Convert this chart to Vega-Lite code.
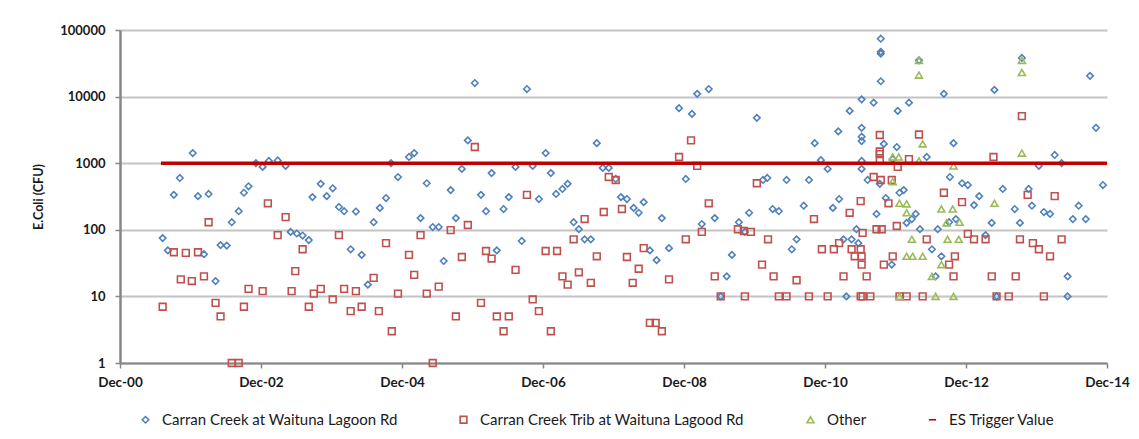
{
"$schema": "https://vega.github.io/schema/vega-lite/v6.json",
"width": 987, "height": 333,
"autosize": {"type": "none"},
"padding": {"left": 120, "top": 30, "right": 32, "bottom": 76},
"background": "white",
"config": {"view": {"stroke": null}, "font": "Lato"},
"data": {"values": [
{"date":"2001-07-10","ecoli":75,"site":"Carran Creek at Waituna Lagoon Rd"},
{"date":"2001-08-06","ecoli":49,"site":"Carran Creek at Waituna Lagoon Rd"},
{"date":"2001-09-06","ecoli":335,"site":"Carran Creek at Waituna Lagoon Rd"},
{"date":"2001-10-07","ecoli":600,"site":"Carran Creek at Waituna Lagoon Rd"},
{"date":"2001-12-13","ecoli":1420,"site":"Carran Creek at Waituna Lagoon Rd"},
{"date":"2002-01-09","ecoli":320,"site":"Carran Creek at Waituna Lagoon Rd"},
{"date":"2002-02-09","ecoli":43,"site":"Carran Creek at Waituna Lagoon Rd"},
{"date":"2002-03-05","ecoli":345,"site":"Carran Creek at Waituna Lagoon Rd"},
{"date":"2002-04-10","ecoli":17,"site":"Carran Creek at Waituna Lagoon Rd"},
{"date":"2002-05-06","ecoli":59,"site":"Carran Creek at Waituna Lagoon Rd"},
{"date":"2002-06-07","ecoli":58,"site":"Carran Creek at Waituna Lagoon Rd"},
{"date":"2002-07-03","ecoli":130,"site":"Carran Creek at Waituna Lagoon Rd"},
{"date":"2002-08-08","ecoli":190,"site":"Carran Creek at Waituna Lagoon Rd"},
{"date":"2002-09-04","ecoli":360,"site":"Carran Creek at Waituna Lagoon Rd"},
{"date":"2002-09-28","ecoli":450,"site":"Carran Creek at Waituna Lagoon Rd"},
{"date":"2002-11-05","ecoli":1000,"site":"Carran Creek at Waituna Lagoon Rd"},
{"date":"2002-12-10","ecoli":880,"site":"Carran Creek at Waituna Lagoon Rd"},
{"date":"2003-01-11","ecoli":1080,"site":"Carran Creek at Waituna Lagoon Rd"},
{"date":"2003-02-26","ecoli":1100,"site":"Carran Creek at Waituna Lagoon Rd"},
{"date":"2003-04-08","ecoli":910,"site":"Carran Creek at Waituna Lagoon Rd"},
{"date":"2003-05-04","ecoli":93,"site":"Carran Creek at Waituna Lagoon Rd"},
{"date":"2003-06-05","ecoli":88,"site":"Carran Creek at Waituna Lagoon Rd"},
{"date":"2003-07-05","ecoli":82,"site":"Carran Creek at Waituna Lagoon Rd"},
{"date":"2003-08-06","ecoli":70,"site":"Carran Creek at Waituna Lagoon Rd"},
{"date":"2003-08-25","ecoli":310,"site":"Carran Creek at Waituna Lagoon Rd"},
{"date":"2003-10-07","ecoli":490,"site":"Carran Creek at Waituna Lagoon Rd"},
{"date":"2003-11-07","ecoli":320,"site":"Carran Creek at Waituna Lagoon Rd"},
{"date":"2003-12-08","ecoli":420,"site":"Carran Creek at Waituna Lagoon Rd"},
{"date":"2004-01-09","ecoli":220,"site":"Carran Creek at Waituna Lagoon Rd"},
{"date":"2004-02-05","ecoli":190,"site":"Carran Creek at Waituna Lagoon Rd"},
{"date":"2004-03-10","ecoli":51,"site":"Carran Creek at Waituna Lagoon Rd"},
{"date":"2004-04-06","ecoli":188,"site":"Carran Creek at Waituna Lagoon Rd"},
{"date":"2004-05-06","ecoli":42,"site":"Carran Creek at Waituna Lagoon Rd"},
{"date":"2004-06-07","ecoli":15,"site":"Carran Creek at Waituna Lagoon Rd"},
{"date":"2004-07-07","ecoli":130,"site":"Carran Creek at Waituna Lagoon Rd"},
{"date":"2004-08-08","ecoli":213,"site":"Carran Creek at Waituna Lagoon Rd"},
{"date":"2004-09-09","ecoli":300,"site":"Carran Creek at Waituna Lagoon Rd"},
{"date":"2004-10-05","ecoli":1000,"site":"Carran Creek at Waituna Lagoon Rd"},
{"date":"2004-11-10","ecoli":620,"site":"Carran Creek at Waituna Lagoon Rd"},
{"date":"2005-01-06","ecoli":1240,"site":"Carran Creek at Waituna Lagoon Rd"},
{"date":"2005-02-02","ecoli":1420,"site":"Carran Creek at Waituna Lagoon Rd"},
{"date":"2005-03-07","ecoli":150,"site":"Carran Creek at Waituna Lagoon Rd"},
{"date":"2005-04-08","ecoli":500,"site":"Carran Creek at Waituna Lagoon Rd"},
{"date":"2005-05-09","ecoli":110,"site":"Carran Creek at Waituna Lagoon Rd"},
{"date":"2005-06-09","ecoli":110,"site":"Carran Creek at Waituna Lagoon Rd"},
{"date":"2005-07-05","ecoli":34,"site":"Carran Creek at Waituna Lagoon Rd"},
{"date":"2005-08-10","ecoli":395,"site":"Carran Creek at Waituna Lagoon Rd"},
{"date":"2005-09-06","ecoli":150,"site":"Carran Creek at Waituna Lagoon Rd"},
{"date":"2005-10-07","ecoli":820,"site":"Carran Creek at Waituna Lagoon Rd"},
{"date":"2005-11-07","ecoli":2200,"site":"Carran Creek at Waituna Lagoon Rd"},
{"date":"2005-12-13","ecoli":16000,"site":"Carran Creek at Waituna Lagoon Rd"},
{"date":"2006-01-14","ecoli":335,"site":"Carran Creek at Waituna Lagoon Rd"},
{"date":"2006-02-09","ecoli":190,"site":"Carran Creek at Waituna Lagoon Rd"},
{"date":"2006-03-10","ecoli":710,"site":"Carran Creek at Waituna Lagoon Rd"},
{"date":"2006-04-06","ecoli":49,"site":"Carran Creek at Waituna Lagoon Rd"},
{"date":"2006-05-11","ecoli":205,"site":"Carran Creek at Waituna Lagoon Rd"},
{"date":"2006-06-07","ecoli":310,"site":"Carran Creek at Waituna Lagoon Rd"},
{"date":"2006-07-12","ecoli":880,"site":"Carran Creek at Waituna Lagoon Rd"},
{"date":"2006-08-13","ecoli":68,"site":"Carran Creek at Waituna Lagoon Rd"},
{"date":"2006-09-09","ecoli":13000,"site":"Carran Creek at Waituna Lagoon Rd"},
{"date":"2006-10-09","ecoli":910,"site":"Carran Creek at Waituna Lagoon Rd"},
{"date":"2006-11-10","ecoli":290,"site":"Carran Creek at Waituna Lagoon Rd"},
{"date":"2006-12-15","ecoli":1420,"site":"Carran Creek at Waituna Lagoon Rd"},
{"date":"2007-01-11","ecoli":710,"site":"Carran Creek at Waituna Lagoon Rd"},
{"date":"2007-02-07","ecoli":345,"site":"Carran Creek at Waituna Lagoon Rd"},
{"date":"2007-03-12","ecoli":410,"site":"Carran Creek at Waituna Lagoon Rd"},
{"date":"2007-04-08","ecoli":490,"site":"Carran Creek at Waituna Lagoon Rd"},
{"date":"2007-05-09","ecoli":130,"site":"Carran Creek at Waituna Lagoon Rd"},
{"date":"2007-06-05","ecoli":102,"site":"Carran Creek at Waituna Lagoon Rd"},
{"date":"2007-07-05","ecoli":72,"site":"Carran Creek at Waituna Lagoon Rd"},
{"date":"2007-08-06","ecoli":72,"site":"Carran Creek at Waituna Lagoon Rd"},
{"date":"2007-09-06","ecoli":2000,"site":"Carran Creek at Waituna Lagoon Rd"},
{"date":"2007-10-07","ecoli":850,"site":"Carran Creek at Waituna Lagoon Rd"},
{"date":"2007-11-07","ecoli":850,"site":"Carran Creek at Waituna Lagoon Rd"},
{"date":"2007-12-13","ecoli":580,"site":"Carran Creek at Waituna Lagoon Rd"},
{"date":"2008-01-09","ecoli":310,"site":"Carran Creek at Waituna Lagoon Rd"},
{"date":"2008-02-09","ecoli":290,"site":"Carran Creek at Waituna Lagoon Rd"},
{"date":"2008-03-15","ecoli":213,"site":"Carran Creek at Waituna Lagoon Rd"},
{"date":"2008-04-10","ecoli":180,"site":"Carran Creek at Waituna Lagoon Rd"},
{"date":"2008-05-06","ecoli":260,"site":"Carran Creek at Waituna Lagoon Rd"},
{"date":"2008-06-07","ecoli":49,"site":"Carran Creek at Waituna Lagoon Rd"},
{"date":"2008-07-12","ecoli":35,"site":"Carran Creek at Waituna Lagoon Rd"},
{"date":"2008-08-08","ecoli":150,"site":"Carran Creek at Waituna Lagoon Rd"},
{"date":"2008-09-14","ecoli":53,"site":"Carran Creek at Waituna Lagoon Rd"},
{"date":"2008-11-05","ecoli":6700,"site":"Carran Creek at Waituna Lagoon Rd"},
{"date":"2008-12-10","ecoli":580,"site":"Carran Creek at Waituna Lagoon Rd"},
{"date":"2009-01-11","ecoli":5500,"site":"Carran Creek at Waituna Lagoon Rd"},
{"date":"2009-02-07","ecoli":11000,"site":"Carran Creek at Waituna Lagoon Rd"},
{"date":"2009-03-03","ecoli":122,"site":"Carran Creek at Waituna Lagoon Rd"},
{"date":"2009-04-08","ecoli":13000,"site":"Carran Creek at Waituna Lagoon Rd"},
{"date":"2009-05-09","ecoli":150,"site":"Carran Creek at Waituna Lagoon Rd"},
{"date":"2009-06-09","ecoli":10,"site":"Carran Creek at Waituna Lagoon Rd"},
{"date":"2009-07-10","ecoli":20,"site":"Carran Creek at Waituna Lagoon Rd"},
{"date":"2009-08-06","ecoli":42,"site":"Carran Creek at Waituna Lagoon Rd"},
{"date":"2009-09-11","ecoli":130,"site":"Carran Creek at Waituna Lagoon Rd"},
{"date":"2009-10-12","ecoli":93,"site":"Carran Creek at Waituna Lagoon Rd"},
{"date":"2009-11-03","ecoli":180,"site":"Carran Creek at Waituna Lagoon Rd"},
{"date":"2009-12-13","ecoli":4800,"site":"Carran Creek at Waituna Lagoon Rd"},
{"date":"2010-01-14","ecoli":560,"site":"Carran Creek at Waituna Lagoon Rd"},
{"date":"2010-02-05","ecoli":600,"site":"Carran Creek at Waituna Lagoon Rd"},
{"date":"2010-03-05","ecoli":205,"site":"Carran Creek at Waituna Lagoon Rd"},
{"date":"2010-04-06","ecoli":190,"site":"Carran Creek at Waituna Lagoon Rd"},
{"date":"2010-05-16","ecoli":560,"site":"Carran Creek at Waituna Lagoon Rd"},
{"date":"2010-06-12","ecoli":51,"site":"Carran Creek at Waituna Lagoon Rd"},
{"date":"2010-07-07","ecoli":72,"site":"Carran Creek at Waituna Lagoon Rd"},
{"date":"2010-08-13","ecoli":230,"site":"Carran Creek at Waituna Lagoon Rd"},
{"date":"2010-09-09","ecoli":560,"site":"Carran Creek at Waituna Lagoon Rd"},
{"date":"2010-10-09","ecoli":2000,"site":"Carran Creek at Waituna Lagoon Rd"},
{"date":"2010-11-10","ecoli":1110,"site":"Carran Creek at Waituna Lagoon Rd"},
{"date":"2010-12-15","ecoli":820,"site":"Carran Creek at Waituna Lagoon Rd"},
{"date":"2011-01-11","ecoli":213,"site":"Carran Creek at Waituna Lagoon Rd"},
{"date":"2011-02-12","ecoli":290,"site":"Carran Creek at Waituna Lagoon Rd"},
{"date":"2011-02-08","ecoli":3000,"site":"Carran Creek at Waituna Lagoon Rd"},
{"date":"2011-03-07","ecoli":72,"site":"Carran Creek at Waituna Lagoon Rd"},
{"date":"2011-03-22","ecoli":10,"site":"Carran Creek at Waituna Lagoon Rd"},
{"date":"2011-04-08","ecoli":6100,"site":"Carran Creek at Waituna Lagoon Rd"},
{"date":"2011-04-18","ecoli":72,"site":"Carran Creek at Waituna Lagoon Rd"},
{"date":"2011-05-13","ecoli":102,"site":"Carran Creek at Waituna Lagoon Rd"},
{"date":"2011-05-23","ecoli":63,"site":"Carran Creek at Waituna Lagoon Rd"},
{"date":"2011-06-09","ecoli":9100,"site":"Carran Creek at Waituna Lagoon Rd"},
{"date":"2011-06-09","ecoli":3400,"site":"Carran Creek at Waituna Lagoon Rd"},
{"date":"2011-06-09","ecoli":2500,"site":"Carran Creek at Waituna Lagoon Rd"},
{"date":"2011-06-09","ecoli":2150,"site":"Carran Creek at Waituna Lagoon Rd"},
{"date":"2011-06-09","ecoli":1080,"site":"Carran Creek at Waituna Lagoon Rd"},
{"date":"2011-06-09","ecoli":820,"site":"Carran Creek at Waituna Lagoon Rd"},
{"date":"2011-07-10","ecoli":560,"site":"Carran Creek at Waituna Lagoon Rd"},
{"date":"2011-08-10","ecoli":8100,"site":"Carran Creek at Waituna Lagoon Rd"},
{"date":"2011-08-25","ecoli":173,"site":"Carran Creek at Waituna Lagoon Rd"},
{"date":"2011-09-11","ecoli":490,"site":"Carran Creek at Waituna Lagoon Rd"},
{"date":"2011-09-16","ecoli":74000,"site":"Carran Creek at Waituna Lagoon Rd"},
{"date":"2011-09-16","ecoli":47000,"site":"Carran Creek at Waituna Lagoon Rd"},
{"date":"2011-09-16","ecoli":44000,"site":"Carran Creek at Waituna Lagoon Rd"},
{"date":"2011-09-16","ecoli":17000,"site":"Carran Creek at Waituna Lagoon Rd"},
{"date":"2011-10-02","ecoli":1950,"site":"Carran Creek at Waituna Lagoon Rd"},
{"date":"2011-10-12","ecoli":300,"site":"Carran Creek at Waituna Lagoon Rd"},
{"date":"2011-11-12","ecoli":30,"site":"Carran Creek at Waituna Lagoon Rd"},
{"date":"2011-11-17","ecoli":1150,"site":"Carran Creek at Waituna Lagoon Rd"},
{"date":"2011-12-08","ecoli":1750,"site":"Carran Creek at Waituna Lagoon Rd"},
{"date":"2011-12-13","ecoli":6100,"site":"Carran Creek at Waituna Lagoon Rd"},
{"date":"2011-12-22","ecoli":360,"site":"Carran Creek at Waituna Lagoon Rd"},
{"date":"2012-01-13","ecoli":395,"site":"Carran Creek at Waituna Lagoon Rd"},
{"date":"2012-01-28","ecoli":127,"site":"Carran Creek at Waituna Lagoon Rd"},
{"date":"2012-02-09","ecoli":8100,"site":"Carran Creek at Waituna Lagoon Rd"},
{"date":"2012-02-24","ecoli":145,"site":"Carran Creek at Waituna Lagoon Rd"},
{"date":"2012-03-15","ecoli":173,"site":"Carran Creek at Waituna Lagoon Rd"},
{"date":"2012-04-01","ecoli":35000,"site":"Carran Creek at Waituna Lagoon Rd"},
{"date":"2012-04-06","ecoli":102,"site":"Carran Creek at Waituna Lagoon Rd"},
{"date":"2012-05-11","ecoli":1240,"site":"Carran Creek at Waituna Lagoon Rd"},
{"date":"2012-06-07","ecoli":51,"site":"Carran Creek at Waituna Lagoon Rd"},
{"date":"2012-06-26","ecoli":20,"site":"Carran Creek at Waituna Lagoon Rd"},
{"date":"2012-07-07","ecoli":102,"site":"Carran Creek at Waituna Lagoon Rd"},
{"date":"2012-07-26","ecoli":40,"site":"Carran Creek at Waituna Lagoon Rd"},
{"date":"2012-08-08","ecoli":11000,"site":"Carran Creek at Waituna Lagoon Rd"},
{"date":"2012-09-04","ecoli":130,"site":"Carran Creek at Waituna Lagoon Rd"},
{"date":"2012-09-08","ecoli":620,"site":"Carran Creek at Waituna Lagoon Rd"},
{"date":"2012-09-27","ecoli":2000,"site":"Carran Creek at Waituna Lagoon Rd"},
{"date":"2012-10-09","ecoli":145,"site":"Carran Creek at Waituna Lagoon Rd"},
{"date":"2012-11-10","ecoli":500,"site":"Carran Creek at Waituna Lagoon Rd"},
{"date":"2012-12-10","ecoli":470,"site":"Carran Creek at Waituna Lagoon Rd"},
{"date":"2013-01-11","ecoli":235,"site":"Carran Creek at Waituna Lagoon Rd"},
{"date":"2013-02-07","ecoli":320,"site":"Carran Creek at Waituna Lagoon Rd"},
{"date":"2013-03-12","ecoli":83,"site":"Carran Creek at Waituna Lagoon Rd"},
{"date":"2013-04-13","ecoli":127,"site":"Carran Creek at Waituna Lagoon Rd"},
{"date":"2013-04-27","ecoli":12600,"site":"Carran Creek at Waituna Lagoon Rd"},
{"date":"2013-05-08","ecoli":10,"site":"Carran Creek at Waituna Lagoon Rd"},
{"date":"2013-06-09","ecoli":410,"site":"Carran Creek at Waituna Lagoon Rd"},
{"date":"2013-08-10","ecoli":205,"site":"Carran Creek at Waituna Lagoon Rd"},
{"date":"2013-09-06","ecoli":127,"site":"Carran Creek at Waituna Lagoon Rd"},
{"date":"2013-09-16","ecoli":38000,"site":"Carran Creek at Waituna Lagoon Rd"},
{"date":"2013-10-21","ecoli":410,"site":"Carran Creek at Waituna Lagoon Rd"},
{"date":"2013-11-07","ecoli":230,"site":"Carran Creek at Waituna Lagoon Rd"},
{"date":"2013-12-13","ecoli":910,"site":"Carran Creek at Waituna Lagoon Rd"},
{"date":"2014-01-08","ecoli":185,"site":"Carran Creek at Waituna Lagoon Rd"},
{"date":"2014-02-09","ecoli":173,"site":"Carran Creek at Waituna Lagoon Rd"},
{"date":"2014-03-05","ecoli":1330,"site":"Carran Creek at Waituna Lagoon Rd"},
{"date":"2014-04-10","ecoli":1000,"site":"Carran Creek at Waituna Lagoon Rd"},
{"date":"2014-05-11","ecoli":20,"site":"Carran Creek at Waituna Lagoon Rd"},
{"date":"2014-05-11","ecoli":10,"site":"Carran Creek at Waituna Lagoon Rd"},
{"date":"2014-06-07","ecoli":145,"site":"Carran Creek at Waituna Lagoon Rd"},
{"date":"2014-07-07","ecoli":230,"site":"Carran Creek at Waituna Lagoon Rd"},
{"date":"2014-08-13","ecoli":145,"site":"Carran Creek at Waituna Lagoon Rd"},
{"date":"2014-09-04","ecoli":20500,"site":"Carran Creek at Waituna Lagoon Rd"},
{"date":"2014-10-05","ecoli":3400,"site":"Carran Creek at Waituna Lagoon Rd"},
{"date":"2014-11-10","ecoli":470,"site":"Carran Creek at Waituna Lagoon Rd"},
{"date":"2001-07-10","ecoli":7,"site":"Carran Creek Trib at Waituna Lagood Rd"},
{"date":"2001-09-06","ecoli":46,"site":"Carran Creek Trib at Waituna Lagood Rd"},
{"date":"2001-10-12","ecoli":18,"site":"Carran Creek Trib at Waituna Lagood Rd"},
{"date":"2001-11-07","ecoli":45,"site":"Carran Creek Trib at Waituna Lagood Rd"},
{"date":"2001-12-08","ecoli":17,"site":"Carran Creek Trib at Waituna Lagood Rd"},
{"date":"2002-01-09","ecoli":46,"site":"Carran Creek Trib at Waituna Lagood Rd"},
{"date":"2002-02-09","ecoli":20,"site":"Carran Creek Trib at Waituna Lagood Rd"},
{"date":"2002-03-05","ecoli":130,"site":"Carran Creek Trib at Waituna Lagood Rd"},
{"date":"2002-04-10","ecoli":8,"site":"Carran Creek Trib at Waituna Lagood Rd"},
{"date":"2002-05-06","ecoli":5,"site":"Carran Creek Trib at Waituna Lagood Rd"},
{"date":"2002-07-03","ecoli":1,"site":"Carran Creek Trib at Waituna Lagood Rd"},
{"date":"2002-08-08","ecoli":1,"site":"Carran Creek Trib at Waituna Lagood Rd"},
{"date":"2002-09-04","ecoli":7,"site":"Carran Creek Trib at Waituna Lagood Rd"},
{"date":"2002-09-28","ecoli":13,"site":"Carran Creek Trib at Waituna Lagood Rd"},
{"date":"2002-12-10","ecoli":12,"site":"Carran Creek Trib at Waituna Lagood Rd"},
{"date":"2003-01-06","ecoli":250,"site":"Carran Creek Trib at Waituna Lagood Rd"},
{"date":"2003-02-26","ecoli":83,"site":"Carran Creek Trib at Waituna Lagood Rd"},
{"date":"2003-04-08","ecoli":155,"site":"Carran Creek Trib at Waituna Lagood Rd"},
{"date":"2003-05-09","ecoli":12,"site":"Carran Creek Trib at Waituna Lagood Rd"},
{"date":"2003-05-28","ecoli":24,"site":"Carran Creek Trib at Waituna Lagood Rd"},
{"date":"2003-07-05","ecoli":51,"site":"Carran Creek Trib at Waituna Lagood Rd"},
{"date":"2003-08-06","ecoli":7,"site":"Carran Creek Trib at Waituna Lagood Rd"},
{"date":"2003-09-01","ecoli":11,"site":"Carran Creek Trib at Waituna Lagood Rd"},
{"date":"2003-10-07","ecoli":13,"site":"Carran Creek Trib at Waituna Lagood Rd"},
{"date":"2003-12-08","ecoli":9,"site":"Carran Creek Trib at Waituna Lagood Rd"},
{"date":"2004-01-09","ecoli":83,"site":"Carran Creek Trib at Waituna Lagood Rd"},
{"date":"2004-02-05","ecoli":13,"site":"Carran Creek Trib at Waituna Lagood Rd"},
{"date":"2004-03-10","ecoli":6,"site":"Carran Creek Trib at Waituna Lagood Rd"},
{"date":"2004-04-06","ecoli":12,"site":"Carran Creek Trib at Waituna Lagood Rd"},
{"date":"2004-05-06","ecoli":7,"site":"Carran Creek Trib at Waituna Lagood Rd"},
{"date":"2004-07-07","ecoli":19,"site":"Carran Creek Trib at Waituna Lagood Rd"},
{"date":"2004-08-03","ecoli":6,"site":"Carran Creek Trib at Waituna Lagood Rd"},
{"date":"2004-09-09","ecoli":63,"site":"Carran Creek Trib at Waituna Lagood Rd"},
{"date":"2004-10-09","ecoli":3,"site":"Carran Creek Trib at Waituna Lagood Rd"},
{"date":"2004-11-10","ecoli":11,"site":"Carran Creek Trib at Waituna Lagood Rd"},
{"date":"2005-01-06","ecoli":42,"site":"Carran Creek Trib at Waituna Lagood Rd"},
{"date":"2005-02-02","ecoli":21,"site":"Carran Creek Trib at Waituna Lagood Rd"},
{"date":"2005-03-07","ecoli":83,"site":"Carran Creek Trib at Waituna Lagood Rd"},
{"date":"2005-04-08","ecoli":11,"site":"Carran Creek Trib at Waituna Lagood Rd"},
{"date":"2005-05-09","ecoli":1,"site":"Carran Creek Trib at Waituna Lagood Rd"},
{"date":"2005-06-09","ecoli":14,"site":"Carran Creek Trib at Waituna Lagood Rd"},
{"date":"2005-08-10","ecoli":99,"site":"Carran Creek Trib at Waituna Lagood Rd"},
{"date":"2005-09-06","ecoli":5,"site":"Carran Creek Trib at Waituna Lagood Rd"},
{"date":"2005-10-07","ecoli":39,"site":"Carran Creek Trib at Waituna Lagood Rd"},
{"date":"2005-11-07","ecoli":118,"site":"Carran Creek Trib at Waituna Lagood Rd"},
{"date":"2005-12-13","ecoli":1750,"site":"Carran Creek Trib at Waituna Lagood Rd"},
{"date":"2006-01-14","ecoli":8,"site":"Carran Creek Trib at Waituna Lagood Rd"},
{"date":"2006-02-09","ecoli":48,"site":"Carran Creek Trib at Waituna Lagood Rd"},
{"date":"2006-03-10","ecoli":37,"site":"Carran Creek Trib at Waituna Lagood Rd"},
{"date":"2006-04-06","ecoli":5,"site":"Carran Creek Trib at Waituna Lagood Rd"},
{"date":"2006-05-11","ecoli":3,"site":"Carran Creek Trib at Waituna Lagood Rd"},
{"date":"2006-06-07","ecoli":5,"site":"Carran Creek Trib at Waituna Lagood Rd"},
{"date":"2006-07-12","ecoli":25,"site":"Carran Creek Trib at Waituna Lagood Rd"},
{"date":"2006-09-09","ecoli":335,"site":"Carran Creek Trib at Waituna Lagood Rd"},
{"date":"2006-10-09","ecoli":9,"site":"Carran Creek Trib at Waituna Lagood Rd"},
{"date":"2006-11-10","ecoli":6,"site":"Carran Creek Trib at Waituna Lagood Rd"},
{"date":"2006-12-15","ecoli":48,"site":"Carran Creek Trib at Waituna Lagood Rd"},
{"date":"2007-01-11","ecoli":3,"site":"Carran Creek Trib at Waituna Lagood Rd"},
{"date":"2007-02-12","ecoli":48,"site":"Carran Creek Trib at Waituna Lagood Rd"},
{"date":"2007-03-12","ecoli":20,"site":"Carran Creek Trib at Waituna Lagood Rd"},
{"date":"2007-04-08","ecoli":15,"site":"Carran Creek Trib at Waituna Lagood Rd"},
{"date":"2007-05-09","ecoli":72,"site":"Carran Creek Trib at Waituna Lagood Rd"},
{"date":"2007-06-05","ecoli":23,"site":"Carran Creek Trib at Waituna Lagood Rd"},
{"date":"2007-07-05","ecoli":145,"site":"Carran Creek Trib at Waituna Lagood Rd"},
{"date":"2007-08-06","ecoli":16,"site":"Carran Creek Trib at Waituna Lagood Rd"},
{"date":"2007-09-06","ecoli":40,"site":"Carran Creek Trib at Waituna Lagood Rd"},
{"date":"2007-10-12","ecoli":185,"site":"Carran Creek Trib at Waituna Lagood Rd"},
{"date":"2007-11-07","ecoli":620,"site":"Carran Creek Trib at Waituna Lagood Rd"},
{"date":"2007-12-13","ecoli":560,"site":"Carran Creek Trib at Waituna Lagood Rd"},
{"date":"2008-01-14","ecoli":205,"site":"Carran Creek Trib at Waituna Lagood Rd"},
{"date":"2008-02-09","ecoli":39,"site":"Carran Creek Trib at Waituna Lagood Rd"},
{"date":"2008-03-10","ecoli":16,"site":"Carran Creek Trib at Waituna Lagood Rd"},
{"date":"2008-04-10","ecoli":26,"site":"Carran Creek Trib at Waituna Lagood Rd"},
{"date":"2008-05-06","ecoli":53,"site":"Carran Creek Trib at Waituna Lagood Rd"},
{"date":"2008-06-07","ecoli":4,"site":"Carran Creek Trib at Waituna Lagood Rd"},
{"date":"2008-07-07","ecoli":4,"site":"Carran Creek Trib at Waituna Lagood Rd"},
{"date":"2008-08-08","ecoli":3,"site":"Carran Creek Trib at Waituna Lagood Rd"},
{"date":"2008-09-14","ecoli":18,"site":"Carran Creek Trib at Waituna Lagood Rd"},
{"date":"2008-11-05","ecoli":1240,"site":"Carran Creek Trib at Waituna Lagood Rd"},
{"date":"2008-12-10","ecoli":72,"site":"Carran Creek Trib at Waituna Lagood Rd"},
{"date":"2009-01-06","ecoli":2200,"site":"Carran Creek Trib at Waituna Lagood Rd"},
{"date":"2009-02-07","ecoli":910,"site":"Carran Creek Trib at Waituna Lagood Rd"},
{"date":"2009-03-03","ecoli":93,"site":"Carran Creek Trib at Waituna Lagood Rd"},
{"date":"2009-04-08","ecoli":250,"site":"Carran Creek Trib at Waituna Lagood Rd"},
{"date":"2009-05-09","ecoli":20,"site":"Carran Creek Trib at Waituna Lagood Rd"},
{"date":"2009-06-09","ecoli":10,"site":"Carran Creek Trib at Waituna Lagood Rd"},
{"date":"2009-09-06","ecoli":102,"site":"Carran Creek Trib at Waituna Lagood Rd"},
{"date":"2009-10-07","ecoli":96,"site":"Carran Creek Trib at Waituna Lagood Rd"},
{"date":"2009-10-12","ecoli":10,"site":"Carran Creek Trib at Waituna Lagood Rd"},
{"date":"2009-11-12","ecoli":93,"site":"Carran Creek Trib at Waituna Lagood Rd"},
{"date":"2009-12-13","ecoli":500,"site":"Carran Creek Trib at Waituna Lagood Rd"},
{"date":"2010-01-09","ecoli":30,"site":"Carran Creek Trib at Waituna Lagood Rd"},
{"date":"2010-02-09","ecoli":72,"site":"Carran Creek Trib at Waituna Lagood Rd"},
{"date":"2010-03-10","ecoli":20,"site":"Carran Creek Trib at Waituna Lagood Rd"},
{"date":"2010-04-06","ecoli":10,"site":"Carran Creek Trib at Waituna Lagood Rd"},
{"date":"2010-05-16","ecoli":10,"site":"Carran Creek Trib at Waituna Lagood Rd"},
{"date":"2010-07-07","ecoli":17.5,"site":"Carran Creek Trib at Waituna Lagood Rd"},
{"date":"2010-09-09","ecoli":10,"site":"Carran Creek Trib at Waituna Lagood Rd"},
{"date":"2010-10-05","ecoli":145,"site":"Carran Creek Trib at Waituna Lagood Rd"},
{"date":"2010-11-15","ecoli":51,"site":"Carran Creek Trib at Waituna Lagood Rd"},
{"date":"2010-12-15","ecoli":10,"site":"Carran Creek Trib at Waituna Lagood Rd"},
{"date":"2011-01-16","ecoli":51,"site":"Carran Creek Trib at Waituna Lagood Rd"},
{"date":"2011-02-12","ecoli":63,"site":"Carran Creek Trib at Waituna Lagood Rd"},
{"date":"2011-03-07","ecoli":20,"site":"Carran Creek Trib at Waituna Lagood Rd"},
{"date":"2011-04-08","ecoli":180,"site":"Carran Creek Trib at Waituna Lagood Rd"},
{"date":"2011-04-18","ecoli":51,"site":"Carran Creek Trib at Waituna Lagood Rd"},
{"date":"2011-05-04","ecoli":40,"site":"Carran Creek Trib at Waituna Lagood Rd"},
{"date":"2011-06-04","ecoli":270,"site":"Carran Creek Trib at Waituna Lagood Rd"},
{"date":"2011-06-04","ecoli":51,"site":"Carran Creek Trib at Waituna Lagood Rd"},
{"date":"2011-06-14","ecoli":90,"site":"Carran Creek Trib at Waituna Lagood Rd"},
{"date":"2011-06-09","ecoli":40,"site":"Carran Creek Trib at Waituna Lagood Rd"},
{"date":"2011-06-09","ecoli":30,"site":"Carran Creek Trib at Waituna Lagood Rd"},
{"date":"2011-06-04","ecoli":10,"site":"Carran Creek Trib at Waituna Lagood Rd"},
{"date":"2011-06-14","ecoli":10,"site":"Carran Creek Trib at Waituna Lagood Rd"},
{"date":"2011-07-05","ecoli":20,"site":"Carran Creek Trib at Waituna Lagood Rd"},
{"date":"2011-07-24","ecoli":10,"site":"Carran Creek Trib at Waituna Lagood Rd"},
{"date":"2011-08-10","ecoli":620,"site":"Carran Creek Trib at Waituna Lagood Rd"},
{"date":"2011-08-25","ecoli":102,"site":"Carran Creek Trib at Waituna Lagood Rd"},
{"date":"2011-09-11","ecoli":2650,"site":"Carran Creek Trib at Waituna Lagood Rd"},
{"date":"2011-09-11","ecoli":1500,"site":"Carran Creek Trib at Waituna Lagood Rd"},
{"date":"2011-09-11","ecoli":1370,"site":"Carran Creek Trib at Waituna Lagood Rd"},
{"date":"2011-09-11","ecoli":1110,"site":"Carran Creek Trib at Waituna Lagood Rd"},
{"date":"2011-09-16","ecoli":560,"site":"Carran Creek Trib at Waituna Lagood Rd"},
{"date":"2011-09-21","ecoli":102,"site":"Carran Creek Trib at Waituna Lagood Rd"},
{"date":"2011-10-02","ecoli":30,"site":"Carran Creek Trib at Waituna Lagood Rd"},
{"date":"2011-10-26","ecoli":250,"site":"Carran Creek Trib at Waituna Lagood Rd"},
{"date":"2011-11-12","ecoli":560,"site":"Carran Creek Trib at Waituna Lagood Rd"},
{"date":"2011-11-17","ecoli":40,"site":"Carran Creek Trib at Waituna Lagood Rd"},
{"date":"2011-12-08","ecoli":114,"site":"Carran Creek Trib at Waituna Lagood Rd"},
{"date":"2011-12-13","ecoli":880,"site":"Carran Creek Trib at Waituna Lagood Rd"},
{"date":"2011-12-22","ecoli":10,"site":"Carran Creek Trib at Waituna Lagood Rd"},
{"date":"2012-01-28","ecoli":10,"site":"Carran Creek Trib at Waituna Lagood Rd"},
{"date":"2012-02-09","ecoli":1150,"site":"Carran Creek Trib at Waituna Lagood Rd"},
{"date":"2012-04-01","ecoli":2700,"site":"Carran Creek Trib at Waituna Lagood Rd"},
{"date":"2012-04-20","ecoli":10,"site":"Carran Creek Trib at Waituna Lagood Rd"},
{"date":"2012-05-11","ecoli":72,"site":"Carran Creek Trib at Waituna Lagood Rd"},
{"date":"2012-08-08","ecoli":360,"site":"Carran Creek Trib at Waituna Lagood Rd"},
{"date":"2012-09-04","ecoli":30,"site":"Carran Creek Trib at Waituna Lagood Rd"},
{"date":"2012-09-27","ecoli":20,"site":"Carran Creek Trib at Waituna Lagood Rd"},
{"date":"2012-10-04","ecoli":40,"site":"Carran Creek Trib at Waituna Lagood Rd"},
{"date":"2012-11-10","ecoli":260,"site":"Carran Creek Trib at Waituna Lagood Rd"},
{"date":"2012-12-10","ecoli":87,"site":"Carran Creek Trib at Waituna Lagood Rd"},
{"date":"2013-01-11","ecoli":72,"site":"Carran Creek Trib at Waituna Lagood Rd"},
{"date":"2013-03-12","ecoli":72,"site":"Carran Creek Trib at Waituna Lagood Rd"},
{"date":"2013-04-13","ecoli":20,"site":"Carran Creek Trib at Waituna Lagood Rd"},
{"date":"2013-04-22","ecoli":1240,"site":"Carran Creek Trib at Waituna Lagood Rd"},
{"date":"2013-05-08","ecoli":10,"site":"Carran Creek Trib at Waituna Lagood Rd"},
{"date":"2013-07-10","ecoli":10,"site":"Carran Creek Trib at Waituna Lagood Rd"},
{"date":"2013-08-15","ecoli":20,"site":"Carran Creek Trib at Waituna Lagood Rd"},
{"date":"2013-09-06","ecoli":72,"site":"Carran Creek Trib at Waituna Lagood Rd"},
{"date":"2013-09-16","ecoli":5100,"site":"Carran Creek Trib at Waituna Lagood Rd"},
{"date":"2013-10-16","ecoli":335,"site":"Carran Creek Trib at Waituna Lagood Rd"},
{"date":"2013-11-12","ecoli":63,"site":"Carran Creek Trib at Waituna Lagood Rd"},
{"date":"2013-12-13","ecoli":51,"site":"Carran Creek Trib at Waituna Lagood Rd"},
{"date":"2014-01-08","ecoli":10,"site":"Carran Creek Trib at Waituna Lagood Rd"},
{"date":"2014-02-09","ecoli":40,"site":"Carran Creek Trib at Waituna Lagood Rd"},
{"date":"2014-03-05","ecoli":320,"site":"Carran Creek Trib at Waituna Lagood Rd"},
{"date":"2014-04-10","ecoli":72,"site":"Carran Creek Trib at Waituna Lagood Rd"},
{"date":"2011-11-17","ecoli":1240,"site":"Other"},
{"date":"2011-12-18","ecoli":1240,"site":"Other"},
{"date":"2011-11-17","ecoli":530,"site":"Other"},
{"date":"2011-12-22","ecoli":250,"site":"Other"},
{"date":"2012-01-28","ecoli":245,"site":"Other"},
{"date":"2012-01-28","ecoli":180,"site":"Other"},
{"date":"2012-02-24","ecoli":72,"site":"Other"},
{"date":"2012-01-28","ecoli":40,"site":"Other"},
{"date":"2012-02-28","ecoli":40,"site":"Other"},
{"date":"2012-04-01","ecoli":35000,"site":"Other"},
{"date":"2012-04-01","ecoli":21000,"site":"Other"},
{"date":"2012-04-01","ecoli":1080,"site":"Other"},
{"date":"2012-04-20","ecoli":1950,"site":"Other"},
{"date":"2012-04-20","ecoli":40,"site":"Other"},
{"date":"2012-06-07","ecoli":20,"site":"Other"},
{"date":"2012-06-26","ecoli":10,"site":"Other"},
{"date":"2012-07-26","ecoli":205,"site":"Other"},
{"date":"2012-09-23","ecoli":205,"site":"Other"},
{"date":"2012-08-22","ecoli":127,"site":"Other"},
{"date":"2012-08-27","ecoli":72,"site":"Other"},
{"date":"2012-07-26","ecoli":30,"site":"Other"},
{"date":"2012-10-28","ecoli":130,"site":"Other"},
{"date":"2012-10-24","ecoli":72,"site":"Other"},
{"date":"2012-09-27","ecoli":910,"site":"Other"},
{"date":"2012-09-27","ecoli":10,"site":"Other"},
{"date":"2011-12-22","ecoli":10,"site":"Other"},
{"date":"2013-04-27","ecoli":250,"site":"Other"},
{"date":"2013-09-16","ecoli":35000,"site":"Other"},
{"date":"2013-09-16","ecoli":23000,"site":"Other"},
{"date":"2013-09-16","ecoli":1420,"site":"Other"},
{"date":"2001-07-01","ecoli":1000,"site":"ES Trigger Value"},
{"date":"2014-12-01","ecoli":1000,"site":"ES Trigger Value"}
]},
"encoding": {
  "x": {"field": "date", "type": "temporal",
    "scale": {"type": "utc", "domain": [{"year": 2000, "month": 12, "date": 1, "utc": true}, {"year": 2014, "month": 12, "date": 1, "utc": true}]},
    "axis": {"title": null, "format": "%b-%y", "grid": false,
      "values": [{"year": 2000, "month": 12, "date": 1, "utc": true}, {"year": 2002, "month": 12, "date": 1, "utc": true}, {"year": 2004, "month": 12, "date": 1, "utc": true}, {"year": 2006, "month": 12, "date": 1, "utc": true}, {"year": 2008, "month": 12, "date": 1, "utc": true}, {"year": 2010, "month": 12, "date": 1, "utc": true}, {"year": 2012, "month": 12, "date": 1, "utc": true}, {"year": 2014, "month": 12, "date": 1, "utc": true}],
      "domainColor": "#868686", "domainWidth": 2, "tickColor": "#868686", "tickWidth": 1.5, "tickSize": 5,
      "labelFont": "Lato", "labelFontWeight": "bold", "labelFontSize": 13.5, "labelColor": "#1a1a1a", "labelPadding": 7, "labelFlush": false}},
  "y": {"field": "ecoli", "type": "quantitative",
    "scale": {"type": "log", "domain": [1, 100000], "nice": false},
    "axis": {"title": "E.Coli (CFU)", "values": [1, 10, 100, 1000, 10000, 100000], "format": "d",
      "grid": true, "gridColor": "#c4c4c4", "gridWidth": 2,
      "domainColor": "#868686", "domainWidth": 2.5, "tickColor": "#868686", "tickSize": 5, "tickWidth": 1.5,
      "labelFont": "Lato", "labelFontWeight": "bold", "labelFontSize": 13, "labelColor": "#1a1a1a", "labelPadding": 10,
      "titleFont": "Lato", "titleFontWeight": "bold", "titleFontSize": 12.5, "titleColor": "#1a1a1a", "titlePadding": 14}}
},
"layer": [
  {"transform": [{"filter": "datum.site !== 'ES Trigger Value'"}],
   "mark": {"type": "point", "filled": false, "opacity": 1},
   "encoding": {
     "color": {"field": "site", "type": "nominal",
       "scale": {"domain": ["Carran Creek at Waituna Lagoon Rd", "Carran Creek Trib at Waituna Lagood Rd", "Other", "ES Trigger Value"], "range": ["#4F81BD", "#C0504D", "#9BBB59", "#C00000"]},
       "legend": {"title": null, "orient": "none", "legendX": 18, "legendY": 382, "direction": "horizontal", "columns": 4,
         "labelFont": "Lato", "labelFontSize": 15, "labelColor": "#1a1a1a", "columnPadding": 58, "symbolOffset": 0, "labelOffset": 9, "labelLimit": 400}},
     "shape": {"field": "site", "type": "nominal",
       "scale": {"domain": ["Carran Creek at Waituna Lagoon Rd", "Carran Creek Trib at Waituna Lagood Rd", "Other", "ES Trigger Value"], "range": ["diamond", "square", "triangle-up", "stroke"]}},
     "size": {"field": "site", "type": "nominal",
       "scale": {"domain": ["Carran Creek at Waituna Lagoon Rd", "Carran Creek Trib at Waituna Lagood Rd", "Other", "ES Trigger Value"], "range": [42, 52, 45, 500]}},
     "strokeWidth": {"field": "site", "type": "nominal",
       "scale": {"domain": ["Carran Creek at Waituna Lagoon Rd", "Carran Creek Trib at Waituna Lagood Rd", "Other", "ES Trigger Value"], "range": [1.6, 1.6, 1.6, 4]}}
   }},
  {"transform": [{"filter": "datum.site === 'ES Trigger Value'"}],
   "mark": {"type": "line", "strokeWidth": 3.5},
   "encoding": {"color": {"field": "site", "type": "nominal"}}}
]
}
